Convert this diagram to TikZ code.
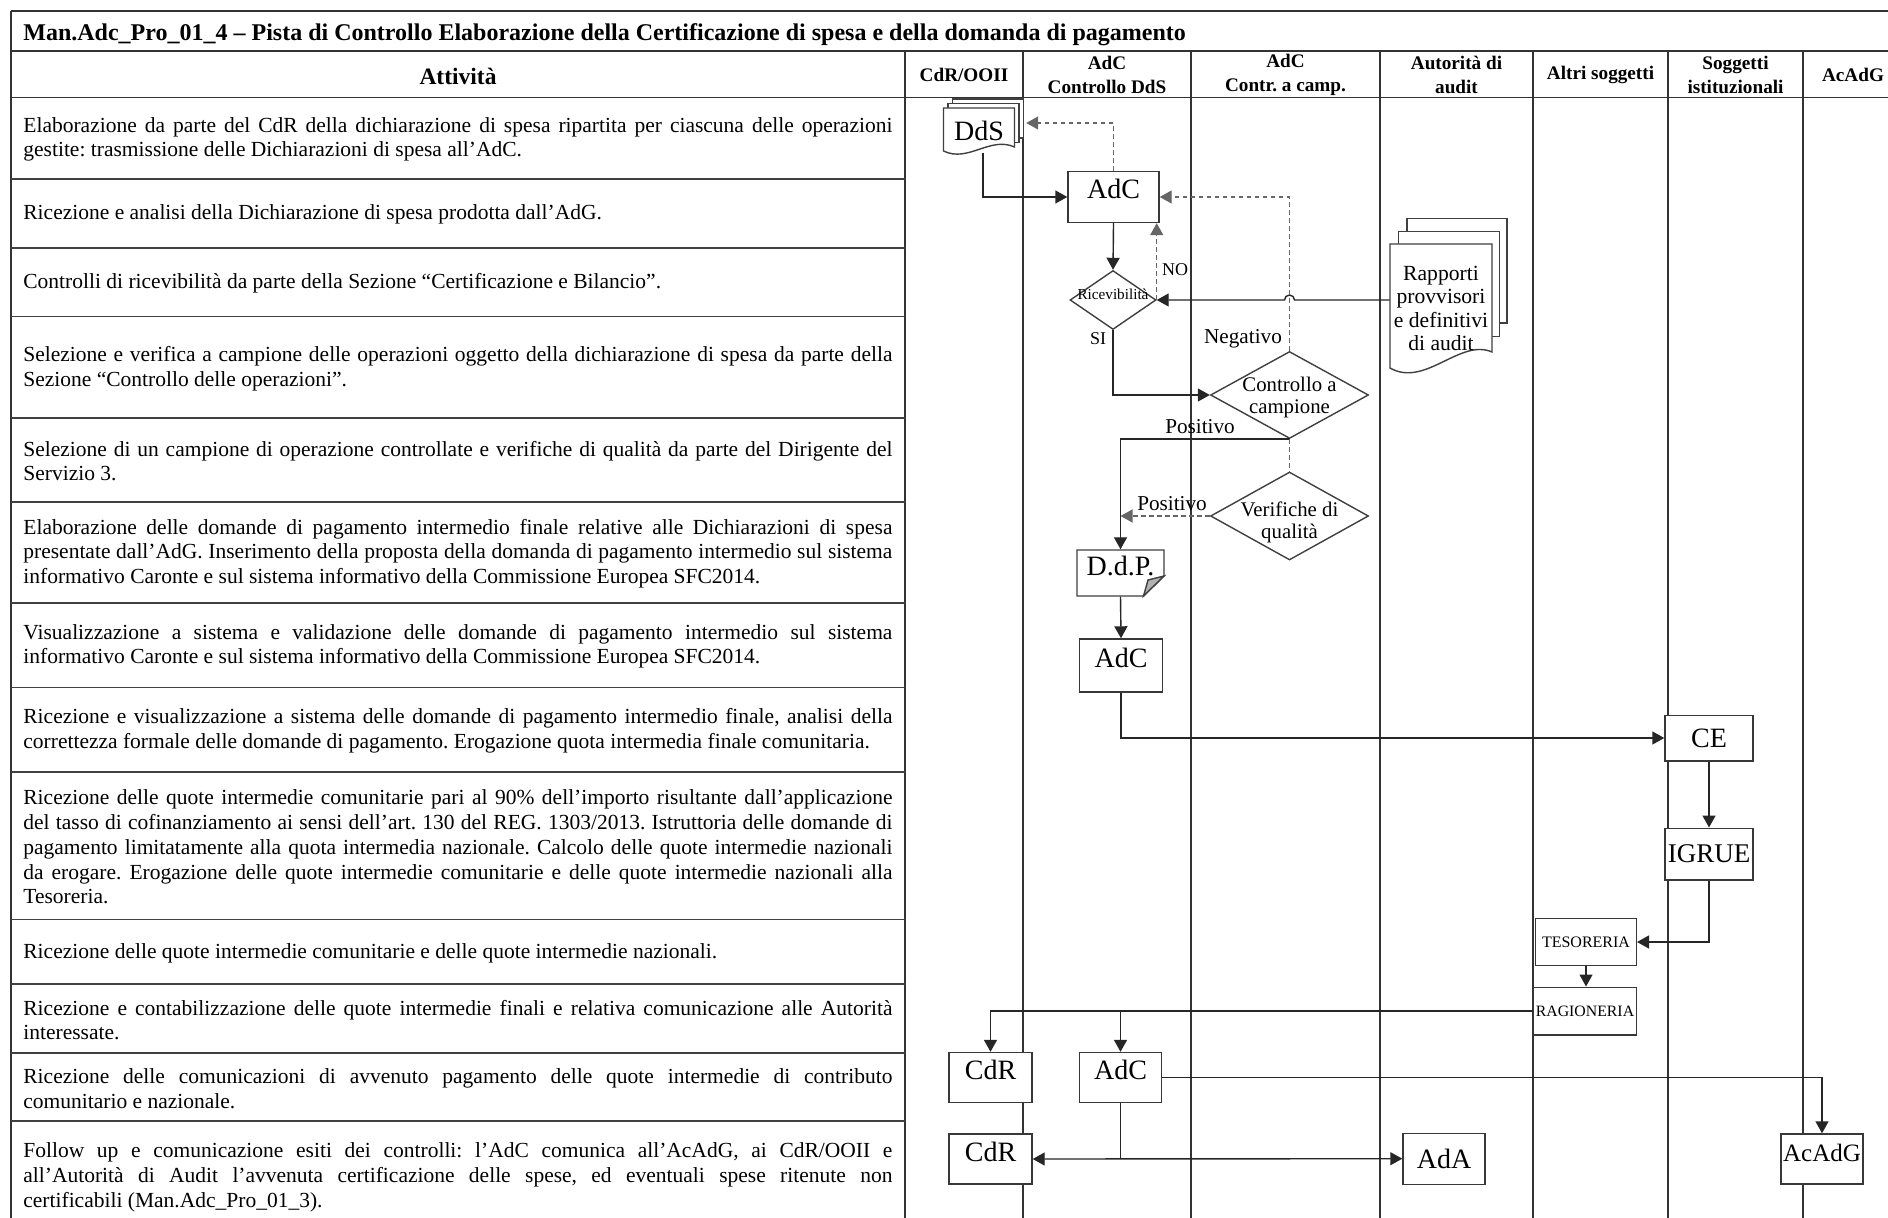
\documentclass[tikz,border=0pt]{standalone}
\usepackage{fontspec}
\setmainfont{Liberation Serif}
\usetikzlibrary{arrows.meta,shapes.geometric,calc}
\frenchspacing
\newcommand\jl[1]{\makebox[434.5pt][s]{#1}}
\tikzset{
  lane/.style={line width=0.65pt, draw=black!80},
  rowsep/.style={line width=0.85pt, draw=black!75},
  frame/.style={line width=0.85pt, draw=black!80},
  fbox/.style={rectangle, draw=black!78, line width=0.7pt, fill=white, inner sep=0pt, font=\fontsize{14}{15}\selectfont},
  raised/.style={text height=10pt, text depth=8pt},
  fdia/.style={diamond, draw=black!75, line width=0.7pt, fill=white, inner sep=0pt, font=\fontsize{10.4}{11}\selectfont},
  docline/.style={draw=black!75, line width=0.7pt, fill=white},
  conn/.style={draw=black!85, line width=0.7pt, -{Triangle[length=6pt,width=6.5pt]}},
  dconn/.style={conn, draw=black!60, dash pattern=on 2.4pt off 1.6pt},
  dline/.style={draw=black!60, line width=0.7pt, dash pattern=on 2.4pt off 1.6pt},
  sline/.style={draw=black!85, line width=0.7pt},
  lbl/.style={inner sep=0pt, font=\fontsize{10.6}{12}\selectfont},
  slbl/.style={inner sep=0pt, font=\fontsize{9}{10}\selectfont},
  act/.style={anchor=west, align=left, inner sep=0pt, font=\fontsize{10.75}{12.35}\selectfont},
  hdr/.style={inner sep=0pt, align=center, font=\bfseries\fontsize{9.6}{12}\selectfont},
  bighdr/.style={inner sep=0pt, font=\bfseries\fontsize{11.75}{13}\selectfont},
}
\begin{document}
\begin{tikzpicture}[x=0.5pt,y=-0.5pt]
\useasboundingbox (0,0) rectangle (1888,1218);
\fill[white] (0,0) rectangle (1888,1218);

% ---------- table ----------
\draw[frame] (11,11) -- (1888,11);
\draw[frame] (11,11) -- (11,1218);
\draw[lane] (11,51) -- (1888,51);
\draw[lane] (11,97.5) -- (1888,97.5);
\foreach \x in {905,1023,1191,1380,1533,1668,1803} \draw[lane] (\x,51) -- (\x,1218);
\foreach \y in {179,248,316.5,418,502,603,687.5,772,919.5,984,1053,1121} \draw[rowsep] (11,\y) -- (905,\y);

\node[bighdr, anchor=west, font=\bfseries\fontsize{12}{13}\selectfont] (title) at (23,35) {Man.Adc\_Pro\_01\_4 – Pista di Controllo Elaborazione della Certificazione di spesa e della domanda di pagamento};
\node[bighdr] (hatt) at (458,76) {Attività};
\node[hdr] (h1) at (964,75) {CdR/OOII};
\node[hdr] (h2) at (1107,75) {AdC\\Controllo DdS};
\node[hdr] (h3) at (1285.5,75) {AdC\\Contr. a camp.};
\node[hdr] (h4) at (1456.5,75) {Autorità di\\audit};
\node[hdr] (h5) at (1600.5,75) {Altri soggetti};
\node[hdr] (h6) at (1735.5,75) {Soggetti\\istituzionali};
\node[hdr] (h7) at (1853,75) {AcAdG};

% ---------- activities ----------
\node[act] (r1) at (23,139.5) {\jl{Elaborazione da parte del CdR della dichiarazione di spesa ripartita per ciascuna delle operazioni}\\gestite: trasmissione delle Dichiarazioni di spesa all’AdC.};
\node[act] (r2) at (23,214.5) {Ricezione e analisi della Dichiarazione di spesa prodotta dall’AdG.};
\node[act] (r3) at (23,283.4) {Controlli di ricevibilità da parte della Sezione “Certificazione e Bilancio”.};
\node[act] (r4) at (23,368.5) {\jl{Selezione e verifica a campione delle operazioni oggetto della dichiarazione di spesa da parte della}\\Sezione “Controllo delle operazioni”.};
\node[act] (r5) at (23,461) {\jl{Selezione di un campione di operazione controllate e verifiche di qualità da parte del Dirigente del}\\Servizio 3.};
\node[act] (r6) at (23,553.5) {\jl{Elaborazione delle domande di pagamento intermedio finale relative alle Dichiarazioni di spesa}\\\jl{presentate dall’AdG. Inserimento della proposta della domanda di pagamento intermedio sul sistema}\\informativo Caronte e sul sistema informativo della Commissione Europea SFC2014.};
\node[act] (r7) at (23,646.3) {\jl{Visualizzazione a sistema e validazione delle domande di pagamento intermedio sul sistema}\\informativo Caronte e sul sistema informativo della Commissione Europea SFC2014.};
\node[act] (r8) at (23,730.8) {\jl{Ricezione e visualizzazione a sistema delle domande di pagamento intermedio finale, analisi della}\\correttezza formale delle domande di pagamento. Erogazione quota intermedia finale comunitaria.};
\node[act] (r9) at (23,847) {\jl{Ricezione delle quote intermedie comunitarie pari al 90\% dell’importo risultante dall’applicazione}\\\jl{del tasso di cofinanziamento ai sensi dell’art. 130 del REG. 1303/2013. Istruttoria delle domande di}\\\jl{pagamento limitatamente alla quota intermedia nazionale. Calcolo delle quote intermedie nazionali}\\\jl{da erogare. Erogazione delle quote intermedie comunitarie e delle quote intermedie nazionali alla}\\Tesoreria.};
\node[act] (r10) at (23,953) {Ricezione delle quote intermedie comunitarie e delle quote intermedie nazionali.};
\node[act] (r11) at (23,1020) {\jl{Ricezione e contabilizzazione delle quote intermedie finali e relativa comunicazione alle Autorità}\\interessate.};
\node[act] (r12) at (23,1088.5) {\jl{Ricezione delle comunicazioni di avvenuto pagamento delle quote intermedie di contributo}\\comunitario e nazionale.};
\node[act] (r13) at (23,1177.5) {\jl{Follow up e comunicazione esiti dei controlli: l’AdC comunica all’AcAdG, ai CdR/OOII e}\\\jl{all’Autorità di Audit l’avvenuta certificazione delle spese, ed eventuali spese ritenute non}\\certificabili (Man.Adc\_Pro\_01\_3).};

% ---------- documents ----------
% DdS (stacked documents)
\fill[white] (952.5,99) rectangle (1023.5,138);
\draw[docline, fill=none] (952.5,103.5) -- (952.5,99) -- (1023.5,99) -- (1023.5,138) -- (1019,138);
\fill[white] (948,103.5) rectangle (1019,142.5);
\draw[docline, fill=none] (948,108) -- (948,103.5) -- (1019,103.5) -- (1019,142.5) -- (1014.5,142.5);
\filldraw[docline] (943.5,108) -- (1014.5,108) -- (1014.5,147) .. controls (990,136) and (968,163) .. (943.5,151) -- cycle;
\node[fbox, draw=none, fill=none, minimum width=35.5pt, minimum height=21pt] (dds) at (979,131) {DdS};

% Rapporti (stacked documents)
\fill[white] (1407,218.3) rectangle (1507,323);
\draw[docline, fill=none] (1407,231.5) -- (1407,218.3) -- (1507,218.3) -- (1507,323) -- (1499.5,323);
\fill[white] (1398.5,231.5) rectangle (1499.5,336.7);
\draw[docline, fill=none] (1398.5,244) -- (1398.5,231.5) -- (1499.5,231.5) -- (1499.5,336.7) -- (1492,336.7);
\filldraw[docline] (1390,244) -- (1492,244) -- (1492,352) .. controls (1460,338) and (1425,388) .. (1390,368) -- cycle;
\node[align=center, inner sep=0pt, minimum width=51pt, font=\fontsize{10.8}{11.7}\selectfont] (rap) at (1441,308.5) {Rapporti\\provvisori\\e definitivi\\di audit};

% D.d.P. (document with folded corner)
\filldraw[docline] (1077,550) -- (1164,550) -- (1164,576) -- (1143.5,596) -- (1077,596) -- cycle;
\filldraw[docline, fill=black!30] (1164,576) -- (1143.5,596) -- (1148,580) -- cycle;
\node[fbox, raised, draw=none, fill=none, minimum width=43.5pt, minimum height=23pt] (ddp) at (1120.5,573) {D.d.P.};

% ---------- boxes and decisions ----------
\node[fbox, raised, minimum width=45.5pt, minimum height=25.5pt] (adc1) at (1113.5,197) {AdC};
\node[fdia, minimum width=43pt, minimum height=29.5pt, font=\fontsize{7.6}{8}\selectfont] (ric) at (1113,300) {\smash{\makebox[0pt]{Ricevibilità}}};
\node[fdia, minimum width=79pt, minimum height=43.5pt] (ctrl) at (1289.5,395) {\smash{\makebox[0pt]{\raisebox{-4pt}{\begin{tabular}{@{}c@{}}Controllo a\\campione\end{tabular}}}}};
\node[fdia, minimum width=79pt, minimum height=44pt] (ver) at (1289.5,516) {\smash{\makebox[0pt]{\raisebox{-6pt}{\begin{tabular}{@{}c@{}}Verifiche di\\qualità\end{tabular}}}}};
\node[fbox, raised, minimum width=41.5pt, minimum height=26.5pt] (adc2) at (1121,665.5) {AdC};
\node[fbox, minimum width=44pt, minimum height=22.8pt] (ce) at (1709,738) {CE};
\node[fbox, minimum width=44pt, minimum height=25.8pt, font=\fontsize{13.5}{14}\selectfont] (igrue) at (1709,854) {IGRUE};
\node[fbox, minimum width=50.3pt, minimum height=23.7pt, font=\fontsize{8}{9}\selectfont] (tes) at (1586,942) {TESORERIA};
\node[fbox, minimum width=51.7pt, minimum height=23.8pt, font=\fontsize{7.9}{9}\selectfont] (rag) at (1585,1011) {RAGIONERIA};
\node[fbox, raised, minimum width=41.5pt, minimum height=25pt] (cdr1) at (990.5,1077.5) {CdR};
\node[fbox, raised, minimum width=41pt, minimum height=25pt] (adc3) at (1120.5,1077.5) {AdC};
\node[fbox, raised, minimum width=41.5pt, minimum height=25pt] (cdr2) at (990.5,1159) {CdR};
\node[fbox, minimum width=41pt, minimum height=25.5pt] (ada) at (1444,1158.7) {AdA};
\node[fbox, raised, minimum width=41pt, minimum height=25pt, font=\fontsize{12.5}{13}\selectfont] (acadg) at (1822,1159) {AcAdG};

% ---------- labels ----------
\node[slbl] (lno) at (1175,270) {NO};
\node[slbl] (lsi) at (1098,339) {SI};
\node[lbl] (lneg) at (1243,339) {Negativo};
\node[lbl] (lpos1) at (1200,427) {Positivo};
\node[lbl] (lpos2) at (1172,504) {Positivo};

% ---------- connectors ----------
\draw[conn] ($(dds.south)+(4,0)$) |- (adc1.west);
\draw[dconn] (adc1.north) |- ($(dds.east)+(11,-8)$);
\draw[conn] (adc1.south) -- (ric.north);
\draw[dconn] (ric.east) -- (ric.east |- adc1.south);
\draw[conn] (rap.west |- ric.east) -- ($(ctrl.north |- ric.east)+(5,0)$) arc[start angle=0,end angle=180,radius=2.5pt] -- (ric.east);
\draw[dconn] (ctrl.north) |- (adc1.east);
\draw[conn] (ric.south) |- (ctrl.west);
\draw[conn] (ctrl.south) -| (ddp.north);
\draw[dline] (ctrl.south) -- (ver.north);
\draw[dconn] (ver.west) -- (ver.west -| ddp.north);
\draw[conn] (ddp.south) -- (adc2.north);
\draw[conn] (adc2.south) |- (ce.west);
\draw[conn] (ce.south) -- (igrue.north);
\draw[conn] (igrue.south) |- (tes.east);
\draw[conn] (tes.south) -- (tes.south |- rag.north);
\draw[conn] (rag.west) -| (cdr1.north);
\draw[conn] (rag.west -| adc3.north) -- (adc3.north);
\draw[conn] (adc3.east) -| (acadg.north);
\draw[sline] (adc3.south) -- (adc3.south |- cdr2.east);
\draw[conn, {Triangle[length=6pt,width=6.5pt]}-{Triangle[length=6pt,width=6.5pt]}] (cdr2.east) -- (ada.west);
\end{tikzpicture}
\end{document}
